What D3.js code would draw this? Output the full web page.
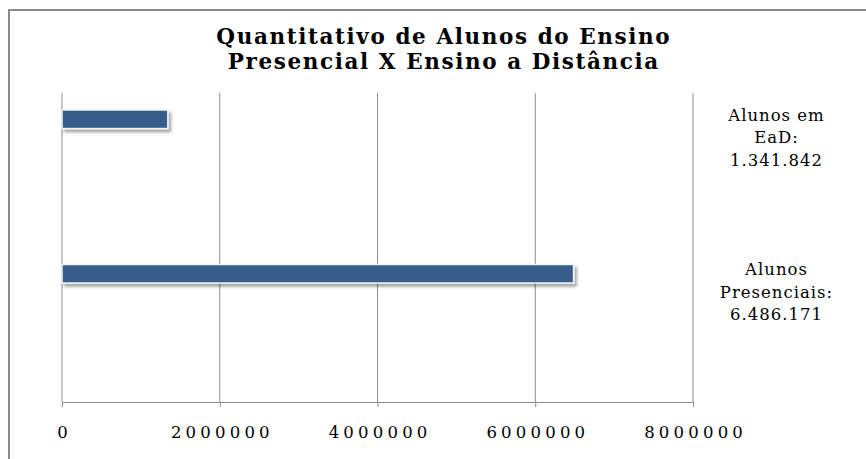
<!DOCTYPE html>
<html>
<head>
<meta charset="utf-8">
<script src="https://cdn.jsdelivr.net/npm/d3@7"></script>
<style>
  body { margin: 0; background: #fff; }
  text { font-family: "DejaVu Serif", "Liberation Serif", serif; fill: #000; }
</style>
</head>
<body>
<div id="canvas"></div>
<script>
const titleLines = ["Quantitativo de Alunos do Ensino", "Presencial X Ensino a Distância"]
const categories = ["Alunos em EaD", "Alunos Presenciais"]
const categoryLines = [["Alunos em", "EaD:"], ["Alunos", "Presenciais:"]]
const values = [1341842, 6486171]
const xTicks = [0, 2000000, 4000000, 6000000, 8000000]

const canvas = d3.select("#canvas")
const width = 866
const height = 459
const margin = {top: 93, left: 62, bottom: 57, right: 173}
const iwidth = width - margin.left - margin.right
const iheight = height - margin.top - margin.bottom

const svg = canvas.append("svg")
    .attr("width", width)
    .attr("height", height)

// bar shadow
const defs = svg.append("defs")
defs.append("filter")
    .attr("id", "shadow")
    .attr("x", "-10%").attr("y", "-50%")
    .attr("width", "130%").attr("height", "250%")
  .append("feDropShadow")
    .attr("dx", 2.5).attr("dy", 3)
    .attr("stdDeviation", 1.8)
    .attr("flood-color", "#000")
    .attr("flood-opacity", 0.35)

// outer frame (only top/left visible in the crop)
svg.append("rect")
    .attr("x", 9).attr("y", 10)
    .attr("width", width + 20).attr("height", height + 20)
    .style("fill", "none")
    .style("stroke", "#8a8a8a")
    .style("stroke-width", 2)

const titleLs = 1.6
svg.append("g").selectAll("text").data(titleLines)
  .enter().append("text")
    .attr("x", 443 + titleLs / 2)
    .attr("y", (d, i) => 44 + i * 25)
    .attr("text-anchor", "middle")
    .style("font-size", "21.5px")
    .style("font-weight", "bold")
    .style("letter-spacing", titleLs + "px")
    .text(d => d)

const g = svg.append("g").attr("transform", `translate(${margin.left},${margin.top})`)

const x = d3.scaleLinear()
    .domain([0, 8000000])
    .range([0, iwidth])

const y = d3.scaleBand()
    .domain(categories)
    .range([0, iheight])

// gridlines
g.append("g").selectAll("line").data(xTicks)
  .enter().append("line")
    .attr("x1", d => x(d)).attr("x2", d => x(d))
    .attr("y1", 0).attr("y2", iheight)
    .style("stroke", "#8c8c8c")
    .style("stroke-width", 1)

const tickLs = 4.2
const xAxis = g.append("g")
    .attr("transform", `translate(0,${iheight})`)
    .call(d3.axisBottom(x).tickValues(xTicks).tickFormat(d3.format("d")).tickSize(5).tickPadding(19))
xAxis.select(".domain").style("stroke", "#8c8c8c")
xAxis.selectAll(".tick line").style("stroke", "#8c8c8c")
xAxis.selectAll(".tick text")
    .attr("dx", tickLs / 2)
    .style("font-family", "\"DejaVu Serif\", serif")
    .style("font-size", "16.5px")
    .style("letter-spacing", tickLs + "px")
    .style("fill", "#000")

const data = categories.map((c, i) => ({name: c, value: values[i], lines: categoryLines[i]}))

g.selectAll("rect.bar").data(data)
  .enter().append("rect")
    .attr("class", "bar")
    .attr("x", x(0))
    .attr("y", d => y(d.name) + y.bandwidth() * 0.11)
    .attr("width", d => x(d.value) - x(0))
    .attr("height", y.bandwidth() * 0.12)
    .style("fill", "#385d8a")
    .style("stroke", "#f2f4f8")
    .style("stroke-width", 1.5)
    .attr("filter", "url(#shadow)")

const br = d3.formatLocale({decimal: ",", thousands: ".", grouping: [3], currency: ["R$", ""]}).format(",d")

const labels = g.selectAll("text.cat").data(data)
  .enter().append("text")
    .attr("class", "cat")
    .attr("text-anchor", "middle")
    .style("font-size", "16.5px")
    .style("letter-spacing", "1px")

labels.each(function(d) {
    const t = d3.select(this)
    const rows = d.lines.concat([br(d.value)])
    rows.forEach((r, i) => {
        t.append("tspan")
            .attr("x", 776 - margin.left + 0.5)
            .attr("y", y(d.name) + y.bandwidth() * 0.285 + (i - 1) * 22.5 + 6)
            .text(r)
    })
})
</script>
</body>
</html>
